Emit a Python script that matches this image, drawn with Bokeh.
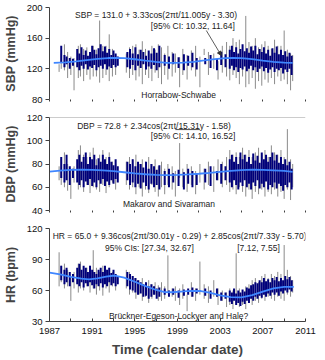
from bokeh.plotting import figure
from bokeh.layouts import column
from bokeh.models import Range1d, FixedTicker, Label, Span, Arrow, NormalHead
from bokeh.embed import file_html
from bokeh.resources import INLINE

# ---------------- data ----------------
gray_years = [1987.9, 1988.1, 1988.4, 1988.7, 1989.0, 1989.3, 1989.7, 1989.9, 1990.2, 1990.5,
              1990.8, 1991.1, 1991.4, 1991.7, 1992.0, 1992.3, 1992.6, 1992.9, 1993.2, 1994.2,
              1994.5, 1994.8, 1995.1, 1995.4, 1995.7, 1996.0, 1996.3, 1996.6, 1996.9, 1997.2,
              1997.5, 1997.8, 1998.1, 1998.5, 1998.8, 1999.2, 1999.5, 1999.9, 2000.3, 2000.7,
              2001.1, 2001.5, 2001.9, 2002.4, 2002.8, 2003.2, 2003.6, 2003.9, 2004.2, 2004.5,
              2004.8, 2005.1, 2005.4, 2005.7, 2006.0, 2006.3, 2006.6, 2006.9, 2007.2, 2007.5,
              2007.8, 2008.1, 2008.4, 2008.7, 2009.0, 2009.3, 2009.6, 2009.8]
blue_years = [1988.1, 1988.4, 1988.6, 1988.9, 1989.2, 1989.6, 1989.8, 1990.0, 1990.2, 1990.4,
              1990.6, 1990.8, 1991.0, 1991.2, 1991.4, 1991.6, 1991.8, 1992.0, 1992.2, 1992.4,
              1992.6, 1992.8, 1993.0, 1993.2, 1993.4, 1994.3, 1994.55, 1994.8, 1995.05, 1995.3,
              1995.55, 1995.8, 1996.05, 1996.3, 1996.55, 1996.8, 1997.05, 1997.3, 1997.8, 1998.2,
              1998.6, 1999.1, 1999.6, 2000.0, 2000.4, 2000.8, 2001.6, 2002.1, 2002.7, 2003.1,
              2003.5, 2003.9, 2004.1, 2004.3, 2004.5, 2004.7, 2004.9, 2005.1, 2005.3, 2005.5,
              2005.7, 2005.9, 2006.1, 2006.3, 2006.5, 2006.7, 2006.9, 2007.1, 2007.3, 2007.5,
              2007.7, 2007.9, 2008.1, 2008.3, 2008.5, 2008.7, 2008.9, 2009.1, 2009.3, 2009.5,
              2009.7]

# SBP
sbp_gray_lo = [116, 120, 118, 108, 112, 92, 108, 110, 104, 112, 106, 110, 110, 102, 108, 112, 104, 110, 112, 115,
               108, 112, 105, 110, 100, 112, 108, 104, 115, 108, 100, 112, 106, 110, 115, 96, 112, 106, 118, 110,
               96, 138, 112, 120, 106, 115, 110, 105, 112, 108, 100, 110, 96, 100, 108, 94, 104, 98, 106, 102,
               108, 100, 110, 104, 106, 100, 92, 104]
sbp_gray_hi = [126, 140, 152, 142, 136, 134, 150, 152, 146, 148, 142, 150, 145, 183, 150, 150, 165, 146, 138, 140,
               148, 150, 152, 145, 156, 146, 142, 150, 145, 152, 148, 140, 150, 142, 140, 135, 146, 138, 144, 150,
               136, 146, 142, 140, 130, 150, 155, 150, 160, 155, 158, 150, 189, 155, 150, 160, 148, 152, 156, 150,
               146, 158, 150, 150, 170, 145, 140, 138]
sbp_blue_lo = [128, 122, 126, 120, 124, 122, 118, 124, 120, 126, 119, 123, 121, 125, 118, 122, 124, 120, 126, 119,
               123, 121, 125, 122, 124, 122, 120, 125, 118, 124, 121, 126, 119, 123, 120, 125, 118, 122, 124, 120,
               126, 121, 118, 124, 122, 119, 126, 121, 118, 125, 122, 120, 124, 118, 122, 116, 121, 119, 123, 117,
               120, 124, 118, 122, 116, 120, 123, 117, 121, 115, 119, 122, 116, 120, 118, 121, 114, 119, 116, 120,
               112]
sbp_blue_hi = [150, 138, 136, 134, 133, 146, 140, 148, 138, 144, 137, 142, 150, 145, 139, 147, 152, 143, 149, 141,
               146, 138, 144, 140, 136, 142, 146, 140, 148, 139, 145, 142, 137, 144, 140, 147, 141, 150, 138, 136,
               140, 135, 139, 137, 141, 134, 134, 138, 133, 142, 139, 145, 150, 142, 148, 140, 146, 152, 143, 147,
               141, 149, 144, 150, 139, 146, 142, 148, 140, 145, 137, 147, 141, 149, 139, 145, 138, 143, 136, 141,
               137]
sbp_fit_years = [1987.4, 1988.5, 1989.5, 1990.5, 1991.5, 1992.5, 1993.2, 1994.0, 1995.0, 1996.0, 1997.0, 1998.0,
                 1998.7, 1999.5, 2000.5, 2001.5, 2002.5, 2003.5, 2004.2, 2005.0, 2006.0, 2007.0, 2008.0, 2009.0, 2009.8]
sbp_fit = [127.8, 128.3, 129.6, 131.4, 133.0, 134.1, 134.3, 133.9, 132.5, 130.7, 129.0, 127.9,
           127.7, 128.0, 129.2, 130.9, 132.7, 134.0, 134.3, 133.9, 132.6, 130.8, 129.1, 128.0, 127.7]

# DBP
dbp_gray_lo = [66, 62, 60, 57, 50, 64, 58, 60, 56, 62, 55, 60, 58, 56, 62, 55, 60, 64, 58, 62,
               58, 60, 54, 60, 52, 58, 55, 62, 56, 52, 60, 54, 62, 58, 52, 68, 60, 56, 62, 54,
               64, 58, 62, 56, 66, 60, 62, 56, 58, 54, 60, 56, 52, 58, 50, 56, 54, 58, 52, 56,
               54, 58, 52, 56, 50, 58, 49, 60]
dbp_gray_hi = [78, 84, 90, 80, 76, 78, 92, 96, 88, 86, 90, 94, 84, 88, 92, 86, 90, 82, 80, 82,
               86, 84, 88, 80, 84, 82, 86, 80, 84, 78, 82, 76, 80, 78, 74, 98, 76, 80, 78, 74,
               80, 76, 82, 78, 84, 82, 86, 92, 88, 90, 86, 94, 88, 92, 86, 90, 94, 88, 92, 86,
               96, 90, 88, 92, 86, 110, 84, 80]
dbp_blue_lo = [68, 64, 66, 62, 68, 64, 62, 66, 60, 65, 62, 67, 61, 64, 60, 66, 63, 67, 61, 65,
               62, 66, 63, 67, 64, 66, 62, 64, 60, 63, 59, 64, 61, 58, 63, 60, 62, 58, 62, 60,
               64, 61, 58, 63, 60, 62, 64, 61, 66, 63, 66, 64, 60, 66, 62, 58, 64, 61, 66, 60,
               63, 58, 64, 61, 66, 59, 63, 60, 65, 58, 62, 60, 64, 59, 63, 61, 57, 62, 60, 64,
               58]
dbp_blue_hi = [86, 80, 88, 78, 76, 84, 88, 82, 86, 90, 80, 86, 84, 88, 79, 85, 82, 88, 84, 80,
               86, 82, 79, 84, 78, 82, 80, 84, 78, 82, 80, 77, 82, 76, 80, 78, 75, 79, 74, 76,
               72, 75, 73, 76, 74, 72, 76, 78, 74, 80, 78, 84, 88, 82, 86, 80, 90, 84, 88, 82,
               86, 80, 89, 83, 87, 81, 90, 84, 88, 82, 86, 90, 83, 88, 81, 86, 80, 84, 79, 82,
               76]
dbp_fit_years = [1987.0, 1988.0, 1989.0, 1990.0, 1991.0, 1992.0, 1993.0, 1994.0, 1995.0, 1996.0, 1997.0, 1998.0,
                 1999.0, 2000.0, 2001.0, 2002.0, 2003.0, 2004.0, 2005.0, 2006.0, 2007.0, 2008.0, 2009.0, 2009.8]
dbp_fit = [73.5, 74.3, 74.9, 75.1, 75.0, 74.5, 73.8, 72.9, 72.0, 71.2, 70.7, 70.5,
           70.6, 71.0, 71.6, 72.4, 73.3, 74.1, 74.7, 75.1, 75.0, 74.6, 74.0, 73.3]

# HR
hr_gray_lo = [64, 68, 62, 64, 50, 62, 58, 62, 60, 64, 58, 62, 56, 60, 55, 62, 58, 64, 60, 62,
              56, 58, 52, 56, 50, 54, 48, 52, 56, 50, 50, 52, 58, 54, 50, 46, 52, 40, 54, 50,
              56, 52, 48, 54, 46, 50, 44, 46, 42, 48, 44, 46, 42, 48, 46, 50, 48, 52, 50, 54,
              52, 50, 54, 52, 50, 56, 54, 58]
hr_gray_hi = [97, 84, 86, 80, 74, 78, 86, 88, 82, 82, 84, 99, 82, 78, 84, 80, 82, 78, 76, 80,
              78, 74, 72, 70, 72, 68, 70, 66, 68, 65, 68, 64, 94, 62, 64, 62, 66, 56, 68, 62,
              88, 66, 64, 70, 62, 60, 58, 62, 60, 96, 62, 58, 64, 66, 70, 72, 68, 74, 76, 72,
              76, 74, 78, 76, 104, 80, 74, 70]
hr_blue_lo = [70, 66, 68, 64, 68, 66, 64, 68, 63, 67, 64, 68, 65, 62, 66, 64, 67, 63, 66, 64,
              68, 65, 67, 64, 66, 64, 61, 60, 58, 56, 57, 54, 55, 52, 54, 56, 52, 54, 56, 54,
              56, 53, 55, 56, 54, 57, 55, 52, 54, 50, 52, 49, 47, 50, 46, 48, 45, 49, 47, 50,
              48, 52, 50, 54, 52, 55, 53, 56, 54, 57, 55, 58, 56, 58, 55, 59, 57, 60, 58, 61,
              59]
hr_blue_hi = [84, 80, 82, 78, 76, 82, 86, 80, 84, 82, 78, 84, 80, 78, 76, 80, 82, 78, 84, 80,
              82, 77, 80, 76, 74, 78, 76, 74, 72, 70, 68, 66, 68, 64, 66, 64, 62, 63, 62, 60,
              62, 60, 61, 62, 63, 62, 62, 60, 62, 58, 58, 60, 58, 62, 57, 60, 58, 61, 59, 63,
              62, 65, 66, 68, 67, 70, 68, 72, 69, 71, 68, 72, 70, 73, 69, 72, 70, 74, 71, 73,
              70]
hr_fit_years = [1987.0, 1988.0, 1989.0, 1990.0, 1990.7, 1991.5, 1992.3, 1993.1, 1994.0, 1995.0, 1996.0, 1997.0,
                1997.8, 1998.5, 1999.3, 2000.2, 2001.2, 2002.0, 2003.0, 2004.0, 2005.0, 2006.0, 2007.0, 2008.0,
                2009.0, 2009.9]
hr_fit = [77.3, 75.5, 73.2, 71.5, 70.8, 71.8, 73.5, 74.5, 72.5, 68.5, 64.2, 60.5,
          58.5, 58.3, 59.0, 59.6, 59.5, 58.0, 55.3, 53.5, 53.3, 55.5, 59.0, 62.0,
          63.5, 63.5]

x_major = [1987, 1991, 1995, 1999, 2003, 2007, 2011]
x_minor = [1989, 1993, 1997, 2001, 2005, 2009]
x_all = sorted(x_major + x_minor)

# ---------------- styling ----------------
FONT = "Liberation Sans"
GRAY = "#8a8a8a"
NAVY = "#00007a"
FITC = "#3f86ff"
AXC = "#404040"


def panel(height, top, bottom, yr, yticks, ylabel, last):
    p = figure(width=325, height=height, x_range=Range1d(1987, 2011), y_range=Range1d(*yr),
               output_backend="svg", toolbar_location=None,
               min_border_left=44, min_border_right=20, min_border_top=top, min_border_bottom=bottom)
    p.outline_line_color = None
    p.xgrid.visible = False
    p.ygrid.visible = False
    p.background_fill_color = "white"
    p.border_fill_color = "white"
    ya = p.yaxis[0]
    ya.ticker = FixedTicker(ticks=yticks)
    ya.axis_label = ylabel
    ya.axis_label_text_font = FONT
    ya.axis_label_text_font_style = "bold"
    ya.axis_label_text_font_size = "12.5px"
    ya.axis_label_standoff = 6
    ya.major_label_text_font = FONT
    ya.major_label_text_font_size = "9.5px"
    ya.major_label_text_color = "#111111"
    ya.major_label_standoff = 3
    ya.major_tick_out = 4
    ya.major_tick_in = 0
    ya.minor_tick_out = 0
    ya.minor_tick_in = 0
    ya.axis_line_color = AXC
    ya.major_tick_line_color = AXC
    xa = p.xaxis[0]
    xa.major_tick_line_color = AXC
    xa.minor_tick_line_color = AXC
    if last:
        xa.ticker = FixedTicker(ticks=x_major, minor_ticks=x_minor)
        xa.axis_line_color = AXC
        xa.major_tick_in = 3
        xa.major_tick_out = 0
        xa.minor_tick_in = 3
        xa.minor_tick_out = 0
        xa.major_label_text_font = FONT
        xa.major_label_text_font_size = "9.5px"
        xa.major_label_text_color = "#111111"
        xa.major_label_standoff = 6
        xa.axis_label = "Time (calendar date)"
        xa.axis_label_text_font = FONT
        xa.axis_label_text_font_style = "bold"
        xa.axis_label_text_font_size = "13.5px"
        xa.axis_label_standoff = 5
    else:
        # tick marks only (as minor ticks), no labels
        xa.ticker = FixedTicker(ticks=[], minor_ticks=x_all)
        xa.axis_line_color = None
        xa.minor_tick_in = 0
        xa.minor_tick_out = 2
    return p


def draw(p, glo, ghi, blo, bhi, fx, fy):
    p.segment(x0=gray_years, y0=glo, x1=gray_years, y1=ghi, line_color=GRAY, line_width=1)
    p.segment(x0=blue_years, y0=blo, x1=blue_years, y1=bhi, line_color=NAVY, line_width=2.0)
    p.line(fx, fy, line_color=FITC, line_width=1.8)


def label(p, x, y, text, size="8.5px", align="left"):
    p.add_layout(Label(x=x, y=y, text=text, text_font=FONT, text_font_size=size,
                       text_color="#222222", text_align=align, text_baseline="middle"))


# SBP panel
p1 = panel(108, 7, 9, (80, 200), [80, 120, 160, 200], "SBP (mmHg)", False)
draw(p1, sbp_gray_lo, sbp_gray_hi, sbp_blue_lo, sbp_blue_hi, sbp_fit_years, sbp_fit)
label(p1, 1989.4, 189.6, "SBP = 131.0 + 3.33cos(2\u03c0t/11.005y - 3.30)")
label(p1, 1996.5, 176.5, "[95% CI: 10.32, 11.64]")
label(p1, 1999.1, 85.5, "Horrabow-Schwabe", align="center")
p1.add_layout(Arrow(end=NormalHead(size=4, fill_color="#333333", line_color="#333333"),
                    x_start=2001.7, y_start=170, x_end=2003.1, y_end=137.5,
                    line_color="#333333", line_width=0.8))

# DBP panel
p2 = panel(110, 9, 8, (40, 120), [40, 60, 80, 100, 120], "DBP (mmHg)", False)
draw(p2, dbp_gray_lo, dbp_gray_hi, dbp_blue_lo, dbp_blue_hi, dbp_fit_years, dbp_fit)
p2.add_layout(Span(location=120, dimension="width", line_color="#9a9a9a", line_width=1))
label(p2, 1989.6, 113.1, "DBP = 72.8 + 2.34cos(2\u03c0t/15.31y - 1.58)")
p2.segment(x0=[1998.8], y0=[109.6], x1=[2001.1], y1=[109.6], line_color="#222222", line_width=0.8)
label(p2, 1996.5, 104.5, "[95% CI: 14.10, 16.52]")
label(p2, 1998.2, 45.2, "Makarov and Sivaraman", align="center")

# HR panel
p3 = panel(142, 10, 39, (30, 120), [30, 60, 90, 120], "HR (bpm)", True)
draw(p3, hr_gray_lo, hr_gray_hi, hr_blue_lo, hr_blue_hi, hr_fit_years, hr_fit)
label(p3, 1987.3, 112.3, "HR = 65.0 + 9.36cos(2\u03c0t/30.01y - 0.29) + 2.85cos(2\u03c0t/7.33y - 5.70)")
label(p3, 1992.2, 101.6, "95% CIs:   [27.34, 32.67]")
label(p3, 2004.6, 101.6, "[7.12, 7.55]")
label(p3, 1999.1, 35.8, "Br\u00fcckner-Egeson-Lockyer and Hale?", align="center")

layout = column(p1, p2, p3, spacing=0)
open("out.html", "w").write(file_html(layout, INLINE))
